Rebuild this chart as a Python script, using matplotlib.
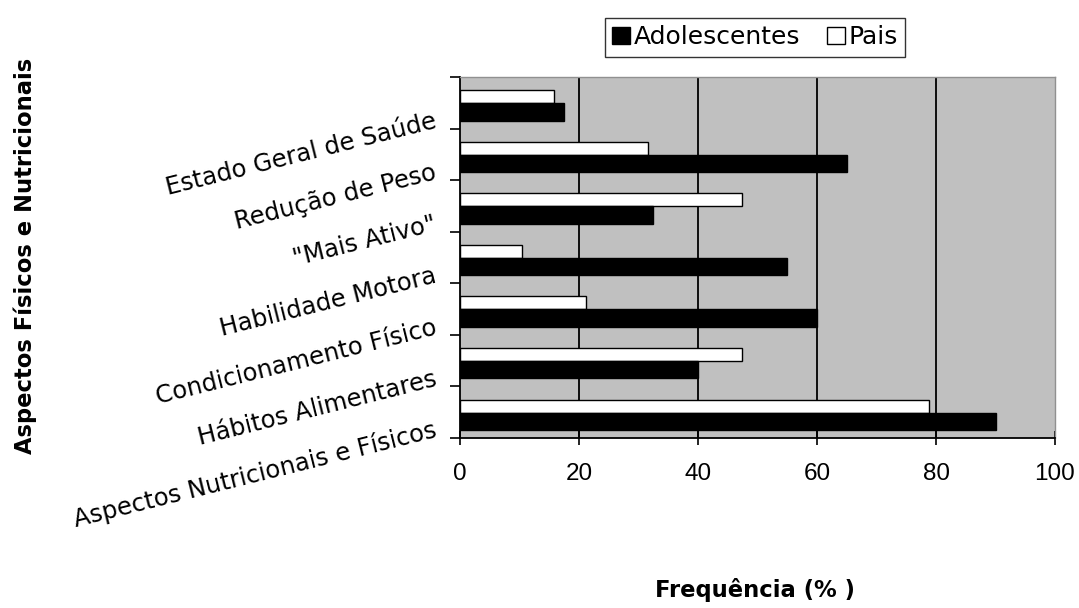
import matplotlib
matplotlib.use('Agg')
import matplotlib.pyplot as plt
import matplotlib.transforms as mtransforms
from matplotlib.patches import Patch
import numpy as np

categories = ["Estado Geral de Saúde", "Redução de Peso", "\"Mais Ativo\"",
              "Habilidade Motora", "Condicionamento Físico",
              "Hábitos Alimentares", "Aspectos Nutricionais e Físicos"]
adolescentes = [17.5, 65, 32.5, 55, 60, 40, 90]
pais = [15.8, 31.6, 47.4, 10.5, 21.1, 47.4, 78.9]
xticks = [0, 20, 40, 60, 80, 100]

GRAY = "#c0c0c0"
FONT = "DejaVu Sans"

fig = plt.figure(figsize=(10.79, 6.08), dpi=100)
fig.patch.set_facecolor("white")
ax = fig.add_axes([460/1079, 1-438/608, 595/1079, 361/608])
ax.set_facecolor(GRAY)

n = len(categories)
y = np.arange(n)
ax.barh(y + 0.256, pais, height=0.25, align='edge', color='white',
        edgecolor='black', lw=1.0, zorder=3)
ax.barh(y + 0.506, adolescentes, height=0.34, align='edge', color='black',
        edgecolor='black', lw=1.0, zorder=3)

ax.set_xlim(0, 100)
ax.set_ylim(n, 0)
ax.set_xticks(xticks)
ax.set_xticklabels([str(v) for v in xticks], fontsize=17.5,
                   family="Liberation Sans")
ax.tick_params(axis='x', direction='inout', length=10, width=1.2, pad=13)
for v in xticks[1:-1]:
    ax.axvline(v, color='black', lw=1.3, zorder=1)

# category ticks at band borders, labels at band centres
ax.set_yticks(np.arange(n + 1))
ax.set_yticklabels([])
ax.tick_params(axis='y', which='major', direction='out', length=7, width=1.2)
ax.set_yticks(y + 0.5, minor=True)
ax.set_yticklabels(categories, minor=True, rotation=14, rotation_mode='anchor',
                   ha='right', va='baseline', fontsize=17.5, family=FONT)
ax.tick_params(axis='y', which='minor', length=0, pad=16)
offset = mtransforms.ScaledTranslation(0, -25/100, fig.dpi_scale_trans)
for lab in ax.get_yticklabels(minor=True):
    lab.set_transform(lab.get_transform() + offset)

for s in ['left', 'bottom']:
    ax.spines[s].set_color('black')
    ax.spines[s].set_linewidth(1.3)
for s in ['top', 'right']:
    ax.spines[s].set_color('#909090')
    ax.spines[s].set_linewidth(1.0)

fig.text(25/1079, 1-256/608, "Aspectos Físicos e Nutricionais", rotation=90,
         ha='center', va='center', fontsize=16.3, fontweight='bold', family=FONT)
fig.text(755/1079, 1-590/608, "Frequência (% )", ha='center', va='center',
         fontsize=16.3, fontweight='bold', family=FONT)

handles = [Patch(facecolor='black', edgecolor='black', label='Adolescentes'),
           Patch(facecolor='white', edgecolor='black', label='Pais')]
leg = fig.legend(handles=handles, loc='center', ncol=2,
                 bbox_to_anchor=(755/1079, 1-37/608), frameon=True,
                 fancybox=False, handlelength=0.7, handleheight=0.7,
                 handletextpad=0.15, columnspacing=1.1, borderpad=0.3,
                 borderaxespad=0, prop={'family': FONT, 'size': 18})
leg.get_frame().set_edgecolor('black')
leg.get_frame().set_linewidth(1.0)

fig.savefig("out.png", dpi=100)
